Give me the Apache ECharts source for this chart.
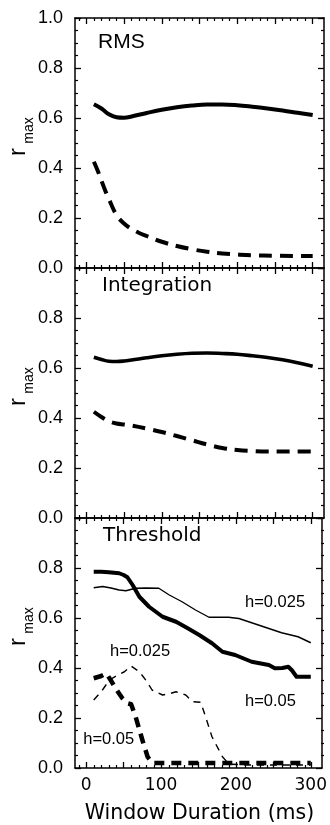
<!DOCTYPE html>
<html><head><meta charset="utf-8">
<script src="https://cdn.jsdelivr.net/npm/echarts@6/dist/echarts.min.js"></script>
<style>html,body{margin:0;padding:0;background:#fff}#c{width:330px;height:825px}</style>
</head><body><div id="c"></div>
<script>
// ---- data ----
const panelTitles = ['RMS', 'Integration', 'Threshold'];
const xMajorTicks = [0, 50, 100, 150, 200, 250, 300];
const xMinorTicks = [-10, 10, 20, 30, 40, 60, 70, 80, 90, 110, 120, 130, 140, 160, 170, 180, 190, 210, 220, 230, 240, 260, 270, 280, 290];
const xTickLabels = [0, 100, 200, 300];
const yMajorTicks = [0, 0.2, 0.4, 0.6, 0.8, 1.0];
const yMinorTicks = [0.05, 0.1, 0.15, 0.25, 0.3, 0.35, 0.45, 0.5, 0.55, 0.65, 0.7, 0.75, 0.85, 0.9, 0.95];
const yLabelsTop = [0, 0.2, 0.4, 0.6, 0.8, 1.0];
const yLabelsLower = [0, 0.2, 0.4, 0.6, 0.8];

// RMS panel
const winX = [10, 20, 30, 40, 50, 60, 80, 100, 120, 140, 160, 180, 200, 220, 240, 260, 280, 300];
const rmsSolid = [0.655, 0.638, 0.615, 0.603, 0.601, 0.606, 0.62, 0.633, 0.643, 0.65, 0.654, 0.654, 0.651, 0.645, 0.638, 0.63, 0.621, 0.612];
const rmsDashX = [10, 15, 20, 25, 30, 40, 50, 60, 70, 80, 100, 120, 140, 160, 180, 200, 220, 250, 275, 300];
const rmsDashed = [0.425, 0.39, 0.35, 0.31, 0.275, 0.212, 0.178, 0.156, 0.14, 0.128, 0.105, 0.088, 0.075, 0.065, 0.058, 0.054, 0.051, 0.049, 0.048, 0.048];

// Integration panel
const intSolid = [0.643, 0.634, 0.627, 0.626, 0.628, 0.632, 0.641, 0.649, 0.655, 0.659, 0.66, 0.658, 0.655, 0.649, 0.642, 0.633, 0.621, 0.607];
const intDashed = [0.425, 0.404, 0.387, 0.378, 0.374, 0.37, 0.358, 0.344, 0.328, 0.311, 0.294, 0.28, 0.272, 0.268, 0.266, 0.266, 0.266, 0.266];

// Threshold panel
const thrThickSolidX = [10, 20, 30, 44, 50, 55, 62, 71, 84, 102, 120, 135, 151, 168, 182, 199, 221, 244, 252, 262, 270, 275, 281, 290, 300];
const thrThickSolid = [0.785, 0.785, 0.783, 0.779, 0.772, 0.763, 0.732, 0.685, 0.645, 0.605, 0.585, 0.56, 0.532, 0.499, 0.465, 0.452, 0.425, 0.412, 0.399, 0.40, 0.405, 0.39, 0.365, 0.365, 0.365];
const thrThinSolidX = [10, 22, 33, 44, 53, 66, 80, 97, 111, 128, 146, 164, 177, 190, 204, 217, 239, 261, 283, 300];
const thrThinSolid = [0.721, 0.726, 0.72, 0.712, 0.709, 0.719, 0.72, 0.719, 0.692, 0.665, 0.632, 0.603, 0.603, 0.603, 0.598, 0.585, 0.563, 0.541, 0.525, 0.501];
const thrThickDashX = [10, 20, 27, 33, 40, 48, 55, 60, 66, 75, 82, 88, 120, 160, 200, 240, 280, 300];
const thrThickDash = [0.359, 0.368, 0.378, 0.35, 0.315, 0.28, 0.259, 0.255, 0.205, 0.112, 0.045, 0.02, 0.02, 0.02, 0.02, 0.02, 0.02, 0.02];
const thrThinDashX = [10, 20, 31, 41, 51, 60, 71, 80, 88, 102, 112, 120, 133, 142, 153, 160, 168, 182, 191, 220, 260, 300];
const thrThinDash = [0.272, 0.305, 0.352, 0.37, 0.385, 0.408, 0.385, 0.35, 0.312, 0.292, 0.298, 0.305, 0.292, 0.265, 0.263, 0.2, 0.125, 0.045, 0.015, 0.012, 0.012, 0.012];

const hLabels = ['h=0.025', 'h=0.05', 'h=0.025', 'h=0.05'];

// ---- build ----
const pairs = (xs, ys) => xs.map((x, i) => [x, ys[i]]);
const BLK = '#000';
const gridTops = [18, 268, 518];
// grids 0-2: main panels; grids 3-5: same rectangles, carrying only the minor ticks
const grids = gridTops.concat(gridTops).map(t => ({left: 75, right: 6, top: t, height: 250, show: false, containLabel: false}));

const xAxes = [], yAxes = [];
const line = {show: true, onZero: false, lineStyle: {color: BLK, width: 1.5}};
function addAxes(gi, g, minor) {
  const xc = {gridIndex: gi, type: 'value', min: -15, max: 315, splitLine: {show: false}, offset: 0};
  const yc = {gridIndex: gi, type: 'value', min: 0, max: 1, splitLine: {show: false}, offset: 0};
  ['bottom', 'top'].forEach(pos => {
    xAxes.push(Object.assign({}, xc, {
      position: pos, axisLine: minor ? {show: false, onZero: false} : line,
      axisTick: {show: true, inside: true, length: minor ? 3 : 6, customValues: minor ? xMinorTicks : xMajorTicks, lineStyle: {color: BLK, width: minor ? 1.2 : 1.3}},
      axisLabel: (!minor && g === 2 && pos === 'bottom') ? {show: true, customValues: xTickLabels, margin: 9, fontFamily: 'DejaVu Sans', fontSize: 17, color: BLK} : {show: false}
    }));
  });
  ['left', 'right'].forEach(pos => {
    yAxes.push(Object.assign({}, yc, {
      position: pos, axisLine: minor ? {show: false, onZero: false} : line,
      axisTick: {show: true, inside: true, length: minor ? 3 : 6, customValues: minor ? yMinorTicks : yMajorTicks, lineStyle: {color: BLK, width: minor ? 1.2 : 1.3}},
      axisLabel: (!minor && pos === 'left') ? {show: true, customValues: g === 0 ? yLabelsTop : yLabelsLower, margin: 12,
        formatter: v => v.toFixed(1), fontFamily: 'Liberation Sans', fontSize: 18, color: BLK} : {show: false}
    }));
  });
}
[0, 1, 2].forEach(g => addAxes(g, g, false));
[0, 1, 2].forEach(g => addAxes(g + 3, g, true));

function ser(g, data, width, type, smooth) {
  return {
    type: 'line', xAxisIndex: g * 2, yAxisIndex: g * 2, data: data, showSymbol: false, symbol: 'none',
    smooth: smooth, animation: false, silent: true,
    lineStyle: {color: BLK, width: width, type: type, cap: 'butt', join: 'round'}
  };
}

const series = [
  ser(0, pairs(winX, rmsSolid), 4, 'solid', 0.4),
  ser(0, pairs(rmsDashX, rmsDashed), 4, [13, 8], 0.4),
  ser(1, pairs(winX, intSolid), 3.6, 'solid', 0.4),
  ser(1, pairs(winX, intDashed), 4, [13, 8], 0.4),
  ser(2, pairs(thrThinSolidX, thrThinSolid), 1.4, 'solid', false),
  ser(2, pairs(thrThickSolidX, thrThickSolid), 4, 'solid', false),
  ser(2, pairs(thrThinDashX, thrThinDash), 1.4, [7, 6], false),
  ser(2, pairs(thrThickDashX, thrThickDash), 4.5, [10, 7], false)
];

const txt = (x, y, text, font, size, align, extra) => Object.assign({
  type: 'text', x: x, y: y, silent: true,
  style: {text: text, fontFamily: font, fontSize: size, fill: BLK, textAlign: align || 'left', textVerticalAlign: 'middle'}
}, extra || {});

const graphics = [];
graphics.push(txt(98, 42.5, panelTitles[0], 'Liberation Sans', 21));
graphics.push(txt(102, 285.5, panelTitles[1], 'DejaVu Sans', 20));
graphics.push(txt(103, 535.7, panelTitles[2], 'DejaVu Sans', 20));
[142, 392, 632].forEach(c => {
  graphics.push(txt(18, c + 10, 'r', 'Liberation Sans', 24, 'center', {rotation: Math.PI / 2}));
  graphics.push(txt(29, c - 11.5, 'max', 'Liberation Sans', 14, 'center', {rotation: Math.PI / 2}));
});
graphics.push(txt(199.5, 814, 'Window Duration (ms)', 'DejaVu Sans', 20.5, 'center'));
graphics.push(txt(245, 602, hLabels[0], 'Liberation Sans', 16.5));
graphics.push(txt(245, 701.7, hLabels[1], 'Liberation Sans', 16.5));
graphics.push(txt(110, 651.7, hLabels[2], 'Liberation Sans', 16.5));
graphics.push(txt(83.3, 739, hLabels[3], 'Liberation Sans', 16.5));

const chart = echarts.init(document.getElementById('c'), null, {renderer: 'canvas'});
chart.setOption({
  backgroundColor: '#fff',
  animation: false,
  grid: grids,
  xAxis: xAxes,
  yAxis: yAxes,
  series: series,
  graphic: graphics
});
</script>
</body></html>
